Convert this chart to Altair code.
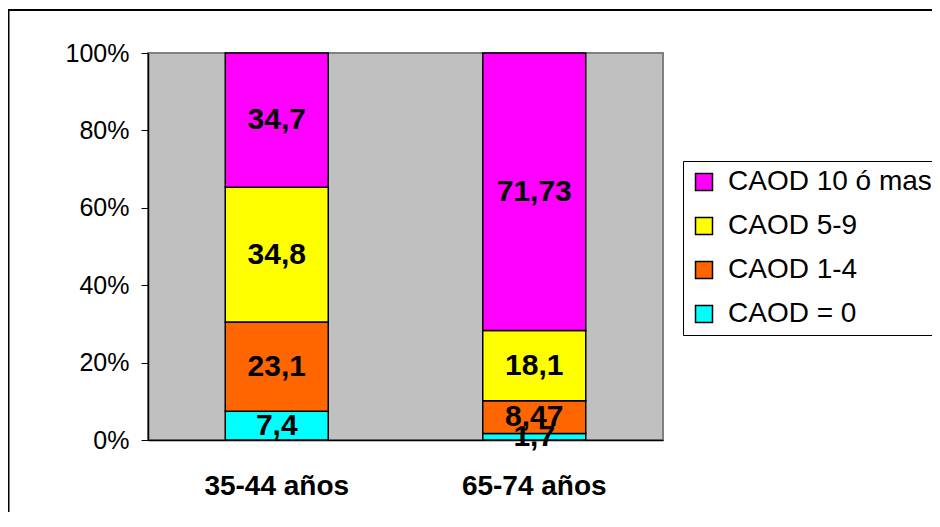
import altair as alt
import pandas as pd

groups = ["35-44 años", "65-74 años"]
series = ["CAOD = 0", "CAOD 1-4", "CAOD 5-9", "CAOD 10 ó mas"]
values_35_44 = [7.4, 23.1, 34.8, 34.7]
values_65_74 = [1.7, 8.47, 18.1, 71.73]
colors = ["#00FFFF", "#FF6600", "#FFFF00", "#FF00FF"]
y_ticks = [0, 20, 40, 60, 80, 100]

rows = []
for g, vals in zip(groups, [values_35_44, values_65_74]):
    for i, (s, v) in enumerate(zip(series, vals)):
        rows.append({"group": g, "serie": s, "value": v, "ord": i,
                     "label": str(v).replace(".", ",")})
df = pd.DataFrame(rows)

legend_order = list(reversed(series))
legend_colors = list(reversed(colors))

x_enc = alt.X("group:N", sort=groups, title=None,
              scale=alt.Scale(paddingInner=0.6, paddingOuter=0.3),
              axis=alt.Axis(labelAngle=0, labelFontSize=28, labelFontWeight="bold",
                            labelFont="Liberation Sans", labelColor="black",
                            ticks=False, labelPadding=32, domainColor="black",
                            domainWidth=1.5))

bars = alt.Chart(df).mark_bar(stroke="black", strokeWidth=1.5).encode(
    x=x_enc,
    y=alt.Y("value:Q", stack="zero", title=None,
            scale=alt.Scale(domain=[0, 100], nice=False),
            axis=alt.Axis(values=y_ticks, labelExpr="datum.value + '%'",
                          labelFontSize=25, labelFont="Liberation Sans",
                          labelColor="black", tickSize=7, tickColor="black",
                          labelPadding=12, domainColor="black", domainWidth=1.5,
                          grid=False)),
    color=alt.Color("serie:N",
                    scale=alt.Scale(domain=legend_order, range=legend_colors),
                    legend=alt.Legend(title=None, orient="none", legendX=535, legendY=108,
                                      labelFontSize=28, labelFont="Liberation Sans",
                                      labelColor="black", symbolType="square",
                                      symbolSize=289, symbolStrokeColor="black",
                                      symbolStrokeWidth=1.5, rowPadding=16,
                                      labelOffset=10, padding=7, strokeColor="black",
                                      fillColor="white", labelLimit=400)),
    order=alt.Order("ord:Q"),
)

text = alt.Chart(df).transform_window(
    cum="sum(value)", groupby=["group"], sort=[alt.SortField("ord")]
).transform_calculate(
    mid="datum.cum - datum.value / 2"
).mark_text(fontSize=30, fontWeight="bold", font="Liberation Sans",
            color="black", baseline="middle").encode(
    x=alt.X("group:N", sort=groups),
    y=alt.Y("mid:Q"),
    text="label:N",
)

frame_df = pd.DataFrame({"k": [0]})
top_border = alt.Chart(frame_df).mark_rule(color="black", strokeWidth=2).encode(
    x=alt.value(-141), x2=alt.value(900), y=alt.value(-43))
left_border = alt.Chart(frame_df).mark_rule(color="black", strokeWidth=2).encode(
    x=alt.value(-139.5), y=alt.value(-43), y2=alt.value(520))

chart = alt.layer(bars, text, top_border, left_border).properties(
    width=515, height=387,
    background="white",
    autosize=alt.AutoSizeParams(type="none"),
    padding={"left": 140, "top": 45, "right": 269, "bottom": 72},
).configure_view(
    fill="#C0C0C0", stroke="#808080", strokeWidth=2
)

chart.save("out.html", embed_options={"renderer": "svg", "actions": False})
